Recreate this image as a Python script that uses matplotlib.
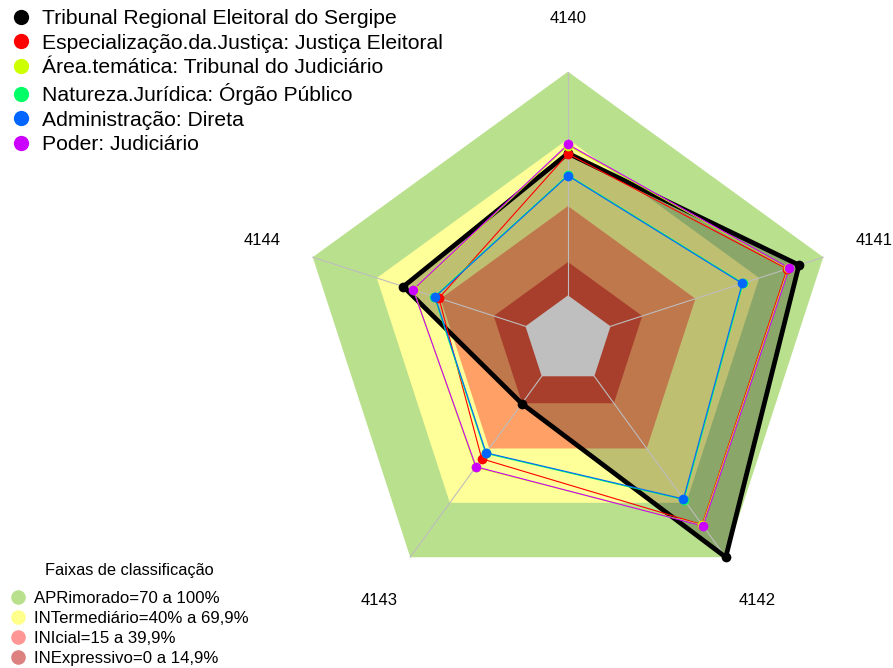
import numpy as np
import matplotlib
matplotlib.use('Agg')
import matplotlib.pyplot as plt
from matplotlib.lines import Line2D
from matplotlib.patches import Polygon

plt.rcParams['font.family'] = ['Liberation Sans', 'DejaVu Sans']

# ---------------- data ----------------
axis_labels = ['4140', '4141', '4142', '4143', '4144']

series_names = [
    'Tribunal Regional Eleitoral do Sergipe',
    'Especialização.da.Justiça: Justiça Eleitoral',
    'Área.temática: Tribunal do Judiciário',
    'Natureza.Jurídica: Órgão Público',
    'Administração: Direta',
    'Poder: Judiciário',
]
series_colors = ['#000000', '#FF0000', '#CCFF00', '#00FF66', '#0066FF', '#CC00FF']

tribunal = [63.5, 88.6, 100.0, 15.1, 57.4]
especializacao = [63.3, 83.0, 82.0, 45.6, 40.7]
area_tematica = [67.0, 83.6, 82.3, 50.3, 52.6]
natureza = [53.8, 62.3, 68.2, 42.6, 42.8]
administracao = [53.5, 61.9, 67.8, 42.3, 42.5]
poder = [67.5, 84.0, 82.7, 50.0, 52.8]

band_title = 'Faixas de classificação'
band_names = ['APRimorado=70 a 100%', 'INTermediário=40% a 69,9%',
              'INIcial=15 a 39,9%', 'INExpressivo=0 a 14,9%']
band_limits = [100.0, 69.9, 39.9, 14.9]
band_fill_colors = ['#B9E08D', '#FFFF99', '#FFA066', '#E0553C']
band_legend_colors = ['#B9E08C', '#FFFF8C', '#FF9696', '#DC8080']

# ---------------- geometry ----------------
W, H, DPI = 893, 668, 100
cx_px, cy_px, R_px = 568.0, 340.1, 268.4
n = len(axis_labels)
angles = np.deg2rad(90 - 72 * np.arange(n))
cgap = 1.0
seg = 5


def radius(v):
    v = np.asarray(v, dtype=float) / 100.0
    return cgap / (seg + cgap) + v * seg / (seg + cgap)


def xy(vals):
    r = radius(vals)
    return r * np.cos(angles), r * np.sin(angles)


fig = plt.figure(figsize=(W / DPI, H / DPI), dpi=DPI)
ax = fig.add_axes([0, 0, 1, 1])
ax.set_xlim(-cx_px / R_px, (W - cx_px) / R_px)
ax.set_ylim(-(H - cy_px) / R_px, cy_px / R_px)
ax.set_aspect('equal')
ax.axis('off')

# bands
for lim, col in zip(band_limits, band_fill_colors):
    x, y = xy([lim] * n)
    ax.add_patch(Polygon(np.column_stack([x, y]), closed=True,
                         facecolor=col, edgecolor='none', zorder=1))
x, y = xy([0] * n)
ax.add_patch(Polygon(np.column_stack([x, y]), closed=True,
                     facecolor='white', edgecolor='none', zorder=1))

# series
all_series = [tribunal, especializacao, area_tematica, natureza, administracao, poder]
for i, (vals, col) in enumerate(zip(all_series, series_colors)):
    x, y = xy(vals)
    xc, yc = np.append(x, x[0]), np.append(y, y[0])
    if i == 0:
        ax.add_patch(Polygon(np.column_stack([x, y]), closed=True,
                             facecolor=(0, 0, 0, 0.25), edgecolor='none', zorder=2))
        ax.plot(xc, yc, color=col, lw=3.4, zorder=4, solid_joinstyle='miter')
    else:
        ax.plot(xc, yc, color=col, lw=0.8, zorder=4 + i)
    ax.plot(x, y, 'o', color=col, ms=7, mec='none', zorder=10 + i)

# radial axis lines
r0 = radius(0)
for a in angles:
    ax.plot([r0 * np.cos(a), np.cos(a)], [r0 * np.sin(a), np.sin(a)],
            color='#BDBDBD', lw=0.8, zorder=3)

# axis labels
for a, lab in zip(angles, axis_labels):
    ax.text(1.2 * np.cos(a), 1.2 * np.sin(a), lab, ha='center', va='center',
            fontsize=12, color='black')

# series legend
h1 = [Line2D([], [], marker='o', ls='none', color=c, ms=11, mec='none') for c in series_colors]
fig.legend(h1, series_names, loc='upper left', bbox_to_anchor=(10.5 / W, 1 - 9 / H),
           frameon=False, fontsize=15.2, handlelength=1.0, handletextpad=0.5,
           labelspacing=0.27, borderpad=0, borderaxespad=0)

# band legend
h2 = [Line2D([], [], marker='o', ls='none', color=c, ms=10.5, mec='none') for c in band_legend_colors]
fig.legend(h2, band_names, loc='lower left', bbox_to_anchor=(10.4 / W, 2 / H),
           frameon=False, fontsize=12.1,
           handlelength=0.9, handletextpad=0.5, labelspacing=0.30, borderpad=0, borderaxespad=0)
fig.text(129 / W, 1 - 570 / H, band_title, ha='center', va='center', fontsize=11.8)

fig.savefig('out.png', dpi=DPI)
